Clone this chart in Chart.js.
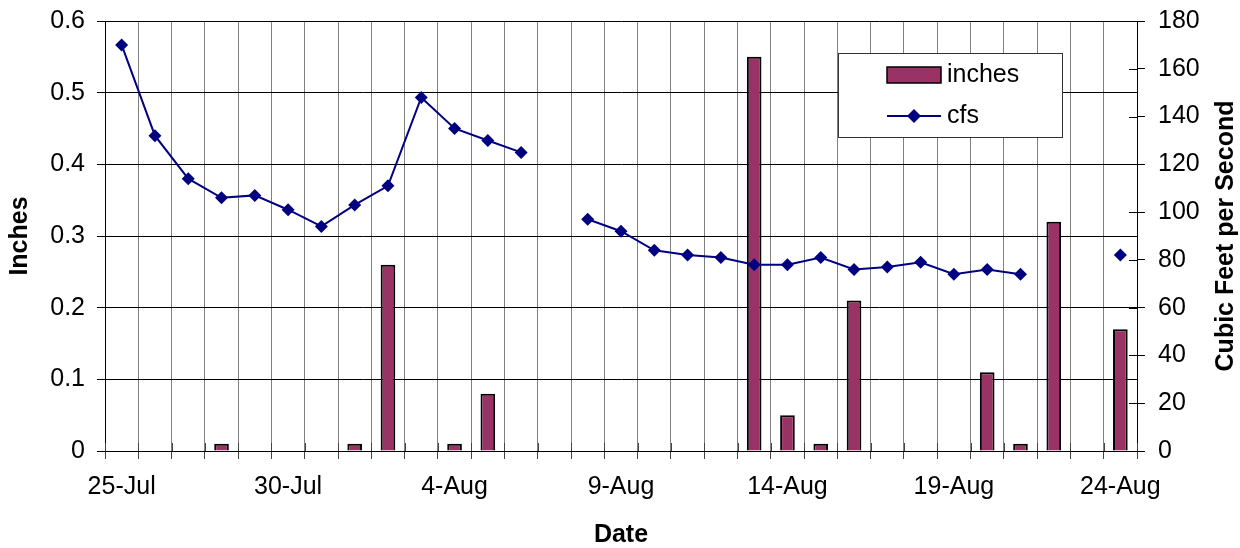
<!DOCTYPE html>
<html>
<head>
<meta charset="utf-8">
<script src="https://cdn.jsdelivr.net/npm/chart.js@4/dist/chart.umd.min.js"></script>
<style>
  html, body { margin: 0; padding: 0; background: #ffffff; }
  #wrap { width: 1240px; height: 548px; }
</style>
</head>
<body>
<div id="wrap"><canvas id="c" width="1240" height="548"></canvas></div>
<script>
// Daily dates, 25 July through 24 August
const dates = [
  '25-Jul','26-Jul','27-Jul','28-Jul','29-Jul','30-Jul','31-Jul',
  '1-Aug','2-Aug','3-Aug','4-Aug','5-Aug','6-Aug','7-Aug','8-Aug',
  '9-Aug','10-Aug','11-Aug','12-Aug','13-Aug','14-Aug','15-Aug','16-Aug',
  '17-Aug','18-Aug','19-Aug','20-Aug','21-Aug','22-Aug','23-Aug','24-Aug'
];

// Daily rainfall (inches)
const inches = [
  null, null, null, 0.01, null, null, null,
  0.01, 0.26, null, 0.01, 0.08, null, null, null,
  null, null, null, null, 0.55, 0.05, 0.01, 0.21,
  null, null, null, 0.11, 0.01, 0.32, null, 0.17
];

// Daily stream flow (cubic feet per second); null = no reading
const cfs = [
  170, 132, 114, 106, 107, 101, 94,
  103, 111, 148, 135, 130, 125, null, 97,
  92, 84, 82, 81, 78, 78, 81, 76,
  77, 79, 74, 76, 74, null, null, 82
];

const inchTicks = [0, 0.1, 0.2, 0.3, 0.4, 0.5, 0.6];
const cfsTicks = [0, 20, 40, 60, 80, 100, 120, 140, 160, 180];

const FONT = "'Liberation Sans', Arial, Helvetica, sans-serif";
const BAR_COLOR = '#993366';
const LINE_COLOR = '#000080';

Chart.defaults.font.family = FONT;
Chart.defaults.font.size = 25;
Chart.defaults.color = '#000000';

// Fixed axis box sizes so the plot area lands at the same place every time
function fixWidth(w) {
  return (s) => { s.width = w; s.paddingTop = 0; s.paddingBottom = 0; };
}

// Tick marks that cross the axis lines, plus the right-hand axis title
const axisExtras = {
  id: 'axisExtras',
  afterDatasetsDraw(chart) {
    const ctx = chart.ctx;
    const area = chart.chartArea;
    const x = chart.scales.x;
    const y1 = chart.scales.y1;
    ctx.save();
    ctx.lineWidth = 1;
    ctx.strokeStyle = '#000000';
    // inner halves of the right-axis ticks
    y1.ticks.forEach((t, i) => {
      const py = Math.round(y1.getPixelForTick(i)) + 0.5;
      ctx.beginPath();
      ctx.moveTo(area.right - 8, py);
      ctx.lineTo(area.right, py);
      ctx.stroke();
    });
    // inner halves of the category ticks
    ctx.strokeStyle = '#444444';
    for (let i = 0; i <= dates.length; i++) {
      const px = Math.round(x.getPixelForValue(i - 0.5)) + 0.5;
      ctx.beginPath();
      ctx.moveTo(px, area.bottom - 8);
      ctx.lineTo(px, area.bottom);
      ctx.stroke();
    }
    ctx.restore();
  },
  afterDraw(chart) {
    const ctx = chart.ctx;
    const area = chart.chartArea;
    ctx.save();
    ctx.translate(1226, (area.top + area.bottom) / 2);
    ctx.rotate(-Math.PI / 2);
    ctx.font = 'bold 25px ' + FONT;
    ctx.fillStyle = '#000000';
    ctx.textAlign = 'center';
    ctx.textBaseline = 'middle';
    ctx.fillText(chart.options.scales.y1.titleText, 0, 0);
    ctx.restore();
  }
};

// Boxed legend inside the plot
const boxLegend = {
  id: 'boxLegend',
  afterDraw(chart) {
    const ctx = chart.ctx;
    const ds = chart.data.datasets;
    const bx = 838, by = 53, bw = 224, bh = 84;
    ctx.save();
    ctx.fillStyle = '#ffffff';
    ctx.fillRect(bx, by, bw, bh);
    ctx.strokeStyle = '#333333';
    ctx.lineWidth = 1;
    ctx.strokeRect(bx + 0.5, by + 0.5, bw, bh);

    ctx.font = '25px ' + FONT;
    ctx.fillStyle = '#000000';
    ctx.textAlign = 'left';
    ctx.textBaseline = 'middle';

    // bar entry
    ctx.fillStyle = ds[0].backgroundColor;
    ctx.fillRect(887, 67, 54, 16);
    ctx.strokeStyle = '#000000';
    ctx.lineWidth = 1.5;
    ctx.strokeRect(887, 67, 54, 16);
    ctx.fillStyle = '#000000';
    ctx.fillText(ds[0].label, 947, 75);

    // line entry
    ctx.strokeStyle = ds[1].borderColor;
    ctx.lineWidth = 2;
    ctx.beginPath();
    ctx.moveTo(887, 116);
    ctx.lineTo(941, 116);
    ctx.stroke();
    const r = 7;
    ctx.fillStyle = ds[1].pointBackgroundColor;
    ctx.beginPath();
    ctx.moveTo(914 - r, 116);
    ctx.lineTo(914, 116 - r);
    ctx.lineTo(914 + r, 116);
    ctx.lineTo(914, 116 + r);
    ctx.closePath();
    ctx.fill();
    ctx.fillStyle = '#000000';
    ctx.fillText(ds[1].label, 947, 116);
    ctx.restore();
  }
};

new Chart(document.getElementById('c'), {
  type: 'bar',
  data: {
    labels: dates,
    datasets: [
      {
        type: 'bar',
        label: 'inches',
        data: inches,
        yAxisID: 'y',
        backgroundColor: BAR_COLOR,
        borderColor: '#000000',
        borderWidth: 2,
        categoryPercentage: 1.0,
        barPercentage: 0.44,
        order: 2
      },
      {
        type: 'line',
        label: 'cfs',
        data: cfs,
        yAxisID: 'y1',
        borderColor: LINE_COLOR,
        borderWidth: 2,
        pointStyle: 'rectRot',
        pointRadius: 6.5,
        pointBorderWidth: 0,
        pointBackgroundColor: LINE_COLOR,
        pointBorderColor: LINE_COLOR,
        spanGaps: false,
        tension: 0,
        order: 1
      }
    ]
  },
  options: {
    responsive: false,
    animation: false,
    layout: { padding: { top: 21, left: 0, right: 0, bottom: 0 } },
    plugins: {
      legend: { display: false },
      tooltip: { enabled: false }
    },
    scales: {
      x: {
        type: 'category',
        offset: true,
        afterFit(s) { s.height = 97; },
        grid: {
          offset: true,
          color: '#808080',
          lineWidth: 1,
          tickLength: 8,
          tickColor: '#444444'
        },
        border: { display: true, color: '#000000', width: 1 },
        ticks: {
          autoSkip: false,
          maxRotation: 0,
          padding: 13,
          callback(value, index) {
            return index % 5 === 0 ? this.getLabelForValue(value) : '';
          }
        },
        title: {
          display: true,
          text: 'Date',
          font: { size: 25, weight: 'bold' },
          padding: { top: 0, bottom: -2 }
        }
      },
      y: {
        position: 'left',
        min: inchTicks[0],
        max: inchTicks[inchTicks.length - 1],
        afterFit: fixWidth(105),
        afterBuildTicks(s) { s.ticks = inchTicks.map(v => ({ value: v })); },
        grid: {
          color: '#000000',
          lineWidth: 1,
          tickLength: 8,
          tickColor: '#000000'
        },
        border: { display: true, color: '#000000', width: 1 },
        ticks: { padding: 12 },
        title: {
          display: true,
          text: 'Inches',
          font: { size: 25, weight: 'bold' },
          padding: { top: 5, bottom: 0 }
        }
      },
      y1: {
        position: 'right',
        min: cfsTicks[0],
        max: cfsTicks[cfsTicks.length - 1],
        titleText: 'Cubic Feet per Second',
        afterFit: fixWidth(103),
        afterBuildTicks(s) { s.ticks = cfsTicks.map(v => ({ value: v })); },
        grid: {
          drawOnChartArea: false,
          tickLength: 8,
          color: '#000000',
          tickColor: '#000000'
        },
        border: { display: true, color: '#000000', width: 1 },
        ticks: { padding: 13 }
      }
    }
  },
  plugins: [axisExtras, boxLegend]
});
</script>
</body>
</html>
